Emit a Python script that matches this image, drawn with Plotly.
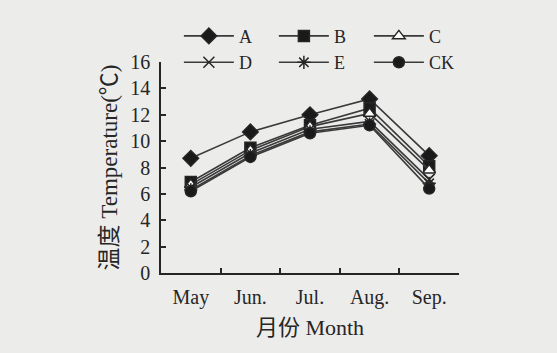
import plotly.graph_objects as go

months = ["May", "Jun.", "Jul.", "Aug.", "Sep."]
series_names = ["A", "B", "C", "D", "E", "CK"]
temp_A = [8.7, 10.7, 12.0, 13.2, 8.9]
temp_B = [6.9, 9.5, 11.2, 12.5, 8.1]
temp_C = [6.7, 9.3, 11.1, 12.1, 7.8]
temp_D = [6.5, 9.1, 10.9, 11.5, 7.1]
temp_E = [6.3, 8.9, 10.7, 11.3, 6.8]
temp_CK = [6.2, 8.8, 10.6, 11.2, 6.4]
y_ticks = [0, 2, 4, 6, 8, 10, 12, 14, 16]

series_values = [temp_A, temp_B, temp_C, temp_D, temp_E, temp_CK]
symbols = ["diamond", "square", "triangle-up", "x-thin", "asterisk", "circle"]
fills = ["#1a1a1a", "#1a1a1a", "white", "#1a1a1a", "#1a1a1a", "#1a1a1a"]
sizes = [12, 11, 11, 11, 11, 11]

font_family = "Liberation Serif, Times New Roman, serif"
cjk_family = font_family + ", Noto Sans CJK SC"
ink = "#262626"
bg = "#ececeb"

fig = go.Figure()
for name, vals, sym, fc, sz in zip(series_names, series_values, symbols, fills, sizes):
    fig.add_trace(go.Scatter(
        x=months, y=vals, name=name, mode="lines+markers",
        line=dict(color="#3a3a3a", width=1.6),
        marker=dict(symbol=sym, size=sz, color=fc,
                    line=dict(color=ink, width=1.5)),
    ))

fig.update_layout(
    width=557, height=353,
    margin=dict(l=161, r=98, t=62, b=80),
    paper_bgcolor=bg, plot_bgcolor=bg,
    font=dict(family=font_family, size=20, color=ink),
    showlegend=True,
    legend=dict(
        orientation="h", x=0.06, xanchor="left", y=1.21, yanchor="top",
        bgcolor="rgba(0,0,0,0)", entrywidth=30, entrywidthmode="pixels",
        itemwidth=50,
        font=dict(size=18, family=font_family, color=ink),
        tracegroupgap=0,
    ),
    xaxis=dict(
        type="category", range=[-0.5, 4.5], tickson="boundaries",
        ticks="inside", ticklen=5, tickwidth=1.5, tickcolor=ink,
        showline=True, linecolor=ink, linewidth=1.5, showgrid=False,
        zeroline=False, ticklabelstandoff=5,
        title=dict(text="月份 Month", standoff=12,
                   font=dict(size=22, family=cjk_family)),
        tickfont=dict(size=20),
    ),
    yaxis=dict(
        range=[0, 16], tickvals=y_ticks,
        ticks="inside", ticklen=5, tickwidth=1.5, tickcolor=ink,
        showline=True, linecolor=ink, linewidth=1.5, showgrid=False,
        zeroline=False, ticklabelstandoff=5,
        title=dict(text="温度 Temperature(℃)", standoff=6,
                   font=dict(size=23, family=cjk_family)),
        tickfont=dict(size=20),
    ),
)

fig.write_html("out.html")
